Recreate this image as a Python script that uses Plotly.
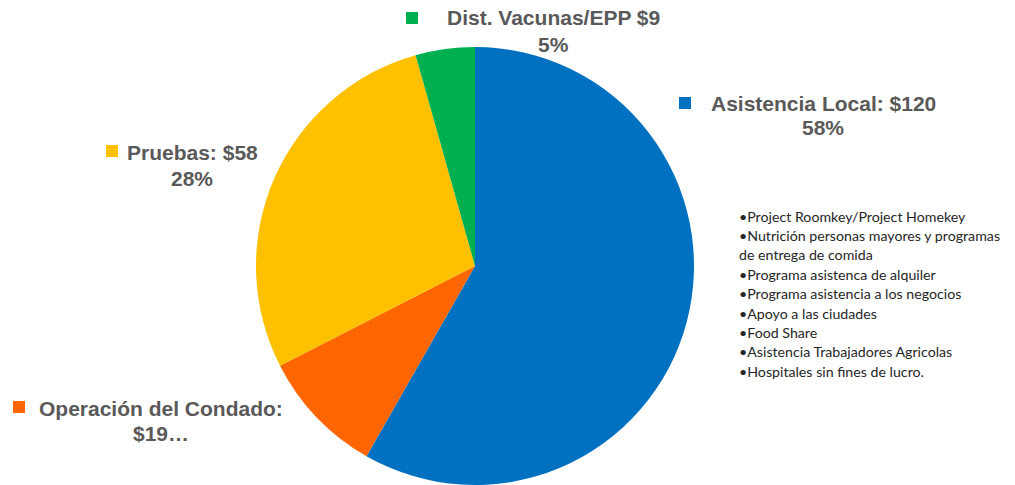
import plotly.graph_objects as go

categories = ["Asistencia Local", "Operación del Condado", "Pruebas", "Dist. Vacunas/EPP"]
values = [120, 19, 58, 9]
colors = ["#0070C0", "#FF6600", "#FFC000", "#00B050"]
label_line1 = ["Asistencia Local: $120", "Operación del Condado:", "Pruebas: $58", "Dist. Vacunas/EPP $9"]
label_line2 = ["58%", "$19…", "28%", "5%"]
bullets = [
    "•Project Roomkey/Project Homekey",
    "•Nutrición personas mayores y programas",
    "de entrega de comida",
    "•Programa asistenca de alquiler",
    "•Programa asistencia a los negocios",
    "•Apoyo a las ciudades",
    "•Food Share",
    "•Asistencia Trabajadores Agricolas",
    "•Hospitales sin fines de lucro.",
]

W, H = 1015, 485
cx, cy, r = 475, 266, 219

fig = go.Figure(go.Pie(
    labels=categories, values=values, sort=False, direction="clockwise", rotation=0,
    marker=dict(colors=colors, line=dict(width=0)),
    textinfo="none", hoverinfo="label+value+percent", showlegend=False,
    domain=dict(x=[(cx - r) / W, (cx + r) / W], y=[(H - cy - r) / H, (H - cy + r) / H]),
))

# label positions (pixel centers of text) and square marker positions
label_pos = [(823, 103, 128), (161, 408, 433), (192, 152, 178), (553, 18, 44)]
square_pos = [(679, 97), (13, 401), (106, 145), (406, 12)]

ann = []
shapes = []
font_lab = dict(family="Liberation Sans, Arial", size=21, color="#595959")
for i in range(len(categories)):
    x, y1, y2 = label_pos[i]
    ann.append(dict(x=x / W, y=1 - y1 / H, xref="paper", yref="paper", text="<b>%s</b>" % label_line1[i],
                    showarrow=False, xanchor="center", yanchor="middle", font=font_lab))
    ann.append(dict(x=x / W, y=1 - y2 / H, xref="paper", yref="paper", text="<b>%s</b>" % label_line2[i],
                    showarrow=False, xanchor="center", yanchor="middle", font=font_lab))
    sx, sy = square_pos[i]
    shapes.append(dict(type="rect", xref="paper", yref="paper", x0=sx / W, x1=(sx + 12) / W,
                       y0=1 - (sy + 12) / H, y1=1 - sy / H, fillcolor=colors[i], line=dict(width=0)))

for j, t in enumerate(bullets):
    y = 216 + j * 19.4
    ann.append(dict(x=737 / W, y=1 - y / H, xref="paper", yref="paper", text=t, showarrow=False,
                    xanchor="left", yanchor="middle",
                    font=dict(family="Lato, Open Sans", size=14.2, color="#262626")))

fig.update_layout(width=W, height=H, margin=dict(l=0, r=0, t=0, b=0),
                  paper_bgcolor="white", plot_bgcolor="white",
                  annotations=ann, shapes=shapes)
fig.write_html("out.html", config={"displayModeBar": False},
               post_script="document.body.style.margin='0';document.body.style.overflow='hidden';")
